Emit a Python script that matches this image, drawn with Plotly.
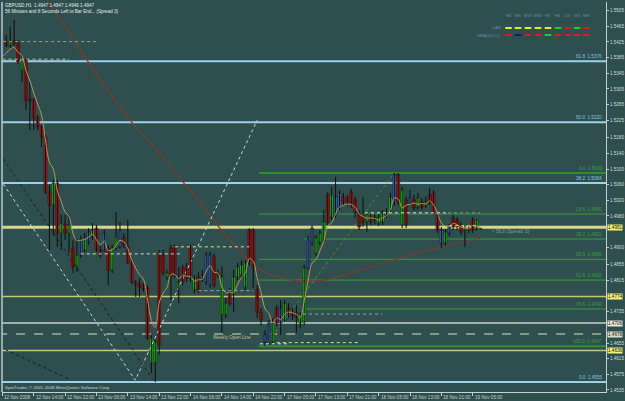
import plotly.graph_objects as go

# ---------------- data ----------------
bar_index = list(range(123))

opens = [
1.5438, 1.5425, 1.5417, 1.5428, 1.5422, 1.5353, 1.5379, 1.5279, 1.5277, 1.5231,
1.5208, 1.5182, 1.5041, 1.5008, 1.5064, 1.4936, 1.4959, 1.4936, 1.4898, 1.4850,
1.4880, 1.4893, 1.4913, 1.4929, 1.4949, 1.4893, 1.4893, 1.4898, 1.4842, 1.4898,
1.4901, 1.4926, 1.4901, 1.4862, 1.4811, 1.4806, 1.4803, 1.4796, 1.4668, 1.4604,
1.4650, 1.4880, 1.4834, 1.4824, 1.4898, 1.4809, 1.4811, 1.4850, 1.4898, 1.4821,
1.4791, 1.4827, 1.4811, 1.4803, 1.4875, 1.4834, 1.4824, 1.4727, 1.4757, 1.4824,
1.4824, 1.4829, 1.4798, 1.4860, 1.4944, 1.4791, 1.4734, 1.4676, 1.4655, 1.4706,
1.4706, 1.4745, 1.4714, 1.4734, 1.4732, 1.4732, 1.4727, 1.4709, 1.4847, 1.4911,
1.4924, 1.4913, 1.4919, 1.4965, 1.5034, 1.4983, 1.5003, 1.5029, 1.5026, 1.5041,
1.5021, 1.4988, 1.4983, 1.4983, 1.4965, 1.4977, 1.4977, 1.4965, 1.4983, 1.4995,
1.5013, 1.5085, 1.5046, 1.4957, 1.5026, 1.5000, 1.5026, 1.5003, 1.5016, 1.5016,
1.5039, 1.4983, 1.4944, 1.4911, 1.4936, 1.4952, 1.4970, 1.4957, 1.4949, 1.4944,
1.4944, 1.4970, 1.4947]

highs = [
1.5448, 1.5443, 1.5463, 1.5481, 1.5430, 1.5392, 1.5384, 1.5323, 1.5282, 1.5238,
1.5213, 1.5187, 1.5059, 1.5072, 1.5072, 1.4983, 1.4983, 1.4983, 1.4919, 1.4924,
1.4929, 1.4936, 1.4949, 1.4962, 1.4957, 1.4903, 1.4944, 1.4906, 1.4906, 1.4990,
1.4965, 1.4936, 1.4970, 1.4873, 1.4816, 1.4821, 1.4809, 1.4803, 1.4676, 1.4663,
1.4893, 1.4893, 1.4842, 1.4906, 1.4906, 1.4850, 1.4855, 1.4860, 1.4906, 1.4829,
1.4837, 1.4842, 1.4888, 1.4888, 1.4883, 1.4842, 1.4850, 1.4770, 1.4796, 1.4842,
1.4860, 1.4867, 1.4867, 1.4949, 1.4949, 1.4803, 1.4745, 1.4688, 1.4714, 1.4719,
1.4752, 1.4765, 1.4765, 1.4757, 1.4745, 1.4752, 1.4734, 1.4855, 1.4929, 1.4957,
1.4931, 1.4944, 1.4995, 1.5041, 1.5054, 1.5080, 1.5046, 1.5039, 1.5034, 1.5049,
1.5029, 1.4995, 1.5029, 1.4990, 1.4985, 1.4985, 1.4985, 1.4995, 1.5000, 1.5039,
1.5090, 1.5090, 1.5054, 1.5029, 1.5046, 1.5034, 1.5039, 1.5026, 1.5029, 1.5052,
1.5046, 1.4990, 1.4952, 1.4947, 1.4959, 1.4983, 1.4977, 1.4965, 1.4957, 1.4957,
1.4977, 1.4972, 1.4947]

lows = [
1.5379, 1.5412, 1.5410, 1.5415, 1.5369, 1.5323, 1.5251, 1.5200, 1.5200, 1.5200,
1.5156, 1.5036, 1.4893, 1.4931, 1.4901, 1.4893, 1.4919, 1.4885, 1.4834, 1.4837,
1.4873, 1.4888, 1.4906, 1.4919, 1.4888, 1.4873, 1.4888, 1.4803, 1.4834, 1.4893,
1.4896, 1.4898, 1.4857, 1.4806, 1.4773, 1.4773, 1.4786, 1.4663, 1.4578, 1.4555,
1.4624, 1.4827, 1.4816, 1.4765, 1.4821, 1.4757, 1.4803, 1.4811, 1.4811, 1.4783,
1.4783, 1.4811, 1.4803, 1.4796, 1.4796, 1.4821, 1.4681, 1.4719, 1.4750, 1.4734,
1.4816, 1.4821, 1.4791, 1.4852, 1.4796, 1.4719, 1.4701, 1.4647, 1.4650, 1.4653,
1.4699, 1.4676, 1.4709, 1.4719, 1.4714, 1.4681, 1.4693, 1.4701, 1.4842, 1.4903,
1.4878, 1.4906, 1.4913, 1.4957, 1.4970, 1.4975, 1.4995, 1.5008, 1.5006, 1.5000,
1.4975, 1.4944, 1.4952, 1.4939, 1.4957, 1.4959, 1.4954, 1.4957, 1.4975, 1.4988,
1.5006, 1.5008, 1.4949, 1.4949, 1.5006, 1.4993, 1.4995, 1.4995, 1.5000, 1.5008,
1.4983, 1.4936, 1.4898, 1.4903, 1.4929, 1.4944, 1.4944, 1.4931, 1.4901, 1.4936,
1.4936, 1.4942, 1.4946]

closes = [
1.5387, 1.5417, 1.5425, 1.5420, 1.5374, 1.5374, 1.5277, 1.5274, 1.5231, 1.5208,
1.5182, 1.5041, 1.5008, 1.5064, 1.4936, 1.4962, 1.4936, 1.4957, 1.4850, 1.4880,
1.4919, 1.4924, 1.4939, 1.4944, 1.4893, 1.4880, 1.4936, 1.4842, 1.4898, 1.4926,
1.4944, 1.4906, 1.4862, 1.4811, 1.4803, 1.4798, 1.4793, 1.4668, 1.4604, 1.4658,
1.4883, 1.4834, 1.4824, 1.4898, 1.4829, 1.4798, 1.4847, 1.4821, 1.4821, 1.4791,
1.4824, 1.4821, 1.4880, 1.4880, 1.4803, 1.4829, 1.4727, 1.4757, 1.4783, 1.4783,
1.4850, 1.4855, 1.4860, 1.4944, 1.4850, 1.4734, 1.4714, 1.4658, 1.4706, 1.4658,
1.4745, 1.4706, 1.4757, 1.4745, 1.4727, 1.4722, 1.4706, 1.4847, 1.4919, 1.4949,
1.4885, 1.4936, 1.4965, 1.5034, 1.4977, 1.5029, 1.5039, 1.5016, 1.5016, 1.5008,
1.4988, 1.4952, 1.4965, 1.4965, 1.4977, 1.4970, 1.4962, 1.4988, 1.4990, 1.5029,
1.5085, 1.5016, 1.4957, 1.5021, 1.5013, 1.5021, 1.5003, 1.5016, 1.5008, 1.5034,
1.4988, 1.4944, 1.4911, 1.4939, 1.4952, 1.4975, 1.4952, 1.4939, 1.4944, 1.4949,
1.4970, 1.4947, 1.4947]

candle_kind = list(
    "brgrrgrrrrrrrgrgrgrgbgbgrrbrggbrrrrrrrggrrgrrgrrrgrgbbrrggrggggrrrrbbgrbgrrrggbbgggrgbbrrrrrrgrrggggbrgrbrgrgrrrbgbrrrggrg")

x_label_index = [0, 8, 16, 24, 32, 40, 48, 56, 64, 72, 80, 88, 96, 104, 112, 120]
x_label_text = ["12 Nov 2008", "12 Nov 14:00", "12 Nov 22:00", "13 Nov 06:00",
                "13 Nov 14:00", "13 Nov 22:00", "14 Nov 06:00", "14 Nov 14:00",
                "14 Nov 22:00", "17 Nov 05:00", "17 Nov 13:00", "17 Nov 21:00",
                "18 Nov 05:00", "18 Nov 13:00", "18 Nov 21:00", "19 Nov 05:00"]

# 1.4775 and 1.4940 sit under the highlighted price boxes in the reference
y_tick_values = [1.5505, 1.5465, 1.5425, 1.5385, 1.5345, 1.5305, 1.5265, 1.5225,
                 1.5180, 1.5140, 1.5100, 1.5060, 1.5020, 1.4980, 1.4900,
                 1.4855, 1.4815, 1.4735, 1.4655, 1.4615, 1.4575, 1.4535]
y_tick_text = ["%.4f" % v for v in y_tick_values]

slow_ma_index = [10, 15, 25, 33, 40, 45, 50, 58, 66, 74, 82, 89, 97, 106, 114, 122]
slow_ma_values = [1.5550, 1.5480, 1.5328, 1.5220, 1.5141, 1.5080, 1.5020, 1.4918,
                  1.4841, 1.4816, 1.4816, 1.4834, 1.4859, 1.4885, 1.4905, 1.4923]

blue_fib_pct = ["61.8", "50.0", "38.2", "0.0"]
blue_fib_price = [1.5376, 1.5220, 1.5064, 1.4555]

green_fib_pct = ["0.0", "23.6", "38.2", "50.0", "61.8", "78.6", "100.0"]
green_fib_price = [1.5090, 1.4985, 1.4921, 1.4869, 1.4816, 1.4742, 1.4647]
green_fib_start = [65.5, 65.5, 77.0, 65.5, 65.5, 77.0, 65.5]

level_price = [1.4951, 1.4774, 1.4706, 1.4678, 1.4636]
level_label = ["1.4951", "1.4774", "1.4706", "1.4678", "1.4636"]

dotted_start = [0.2, 0.0, 20.0, 44.0, 50.0, 92.5, 113.7, 76.7, 70.0, 65.7, 114.0]
dotted_end = [24.0, 17.0, 46.0, 63.0, 64.0, 113.7, 121.9, 96.9, 90.7, 72.6, 121.4]
dotted_price = [1.5426, 1.5381, 1.4883, 1.4901, 1.4789, 1.4988, 1.4988, 1.4729,
                1.4656, 1.4653, 1.4955]
dotted_color = ["#9aa6a0", "#c8c088", "#d8dcd8", "#e0dc90", "#9aa6a0", "#e8ece8",
                "#8a9a9a", "#9aa6a0", "#e0dc90", "#e8ece8", "#f0e060"]

vline_index = [-0.6, 33.9, 65.0]
vline_price = [1.5074, 1.4560, 1.5225]
dark1_index = [-0.6, 38.4]
dark1_price = [1.5138, 1.4561]
dark2_index = [-0.6, 17.3]
dark2_price = [1.4645, 1.4561]
green_trend_index = [67, 100]
green_trend_price = [1.4647, 1.5090]

legend_cols = ["M1", "M5", "M15", "M30", "H1", "H4", "D1", "W1", "MN"]
legend_can = ["y", "y", "y", "y", "y", "g", "r", "g", "r"]
legend_sma = ["r", "n", "r", "r", "g", "r", "r", "r", "r"]

# ---------------- styling ----------------
BG = "#2F4F4F"
FG = "#c8d0d0"
FONT = "Liberation Sans"
FS = 4.6
kind_color = {"g": "#22dd22", "r": "#d01414", "b": "#4a78d0"}


def ema(vals, n):
    a = 2.0 / (n + 1)
    out = [vals[0]]
    for v in vals[1:]:
        out.append(out[-1] + a * (v - out[-1]))
    return out


fast_ma = ema(closes, 5)

fig = go.Figure()

XMIN, XMAX = -0.1, 154.0
shapes = []
annotations = []

# slow MA (behind candles)
fig.add_trace(go.Scatter(x=slow_ma_index, y=slow_ma_values, mode="lines",
                         line=dict(color="#7e3a30", width=1.2, shape="spline"),
                         showlegend=False, hoverinfo="skip"))

# diagonal drawings
fig.add_trace(go.Scatter(x=vline_index, y=vline_price, mode="lines",
                         line=dict(color="#d0dcdc", width=1, dash="dot"),
                         showlegend=False, hoverinfo="skip"))
for xi, yp in ((dark1_index, dark1_price), (dark2_index, dark2_price)):
    fig.add_trace(go.Scatter(x=xi, y=yp, mode="lines",
                             line=dict(color="#141c1c", width=1, dash="dot"),
                             showlegend=False, hoverinfo="skip"))
fig.add_trace(go.Scatter(x=green_trend_index, y=green_trend_price, mode="lines",
                         line=dict(color="#3a9a3a", width=1, dash="dot"),
                         showlegend=False, hoverinfo="skip"))

# wicks
wx, wy = [], []
for i, h, l in zip(bar_index, highs, lows):
    wx += [i, i, None]
    wy += [l, h, None]
fig.add_trace(go.Scatter(x=wx, y=wy, mode="lines", line=dict(color="#0c0c0c", width=1),
                         hoverinfo="skip", showlegend=False))

# bodies
base = [min(o, c) for o, c in zip(opens, closes)]
height = [max(abs(c - o), 0.00006) for o, c in zip(opens, closes)]
fig.add_trace(go.Bar(x=bar_index, y=height, base=base, width=0.76,
                     marker=dict(color=[kind_color[k] for k in candle_kind],
                                 line=dict(color="#101010", width=0.5)),
                     showlegend=False, hoverinfo="skip"))

# fast MA
fig.add_trace(go.Scatter(x=bar_index, y=fast_ma, mode="lines",
                         line=dict(color="#b8985e", width=1, shape="spline"),
                         showlegend=False, hoverinfo="skip"))

# blue fib
for pct, pr in zip(blue_fib_pct, blue_fib_price):
    shapes.append(dict(type="line", xref="x", yref="y", x0=XMIN - 1, x1=XMAX + 1, y0=pr, y1=pr,
                       line=dict(color="#9fd0ea", width=2), layer="below"))
    annotations.append(dict(xref="paper", yref="y", x=1, y=pr, xanchor="right", yanchor="bottom",
                            xshift=-2, yshift=0, text="%s  %.4f" % (pct, pr), showarrow=False,
                            font=dict(size=FS, color="#8cc4e4", family=FONT)))

# green fib
for pct, pr, st in zip(green_fib_pct, green_fib_price, green_fib_start):
    thick = pct in ("0.0", "100.0")
    shapes.append(dict(type="line", xref="x", yref="y", x0=st, x1=XMAX + 1, y0=pr, y1=pr,
                       line=dict(color="#2f8f2f" if thick else "#3a9e3a", width=2 if thick else 1),
                       layer="below"))
    annotations.append(dict(xref="paper", yref="y", x=1, y=pr, xanchor="right", yanchor="bottom",
                            xshift=-2, yshift=0, text="%s  %.4f" % (pct, pr), showarrow=False,
                            font=dict(size=FS, color="#3aa03a", family=FONT)))

# horizontal levels
level_style = [("#d8d888", 3, "solid"), ("#c8c870", 1.5, "solid"), ("#c8d0c8", 1.5, "solid"),
               ("#a8b098", 1.5, "dash"), ("#c8c870", 1.5, "solid")]
level_box = ["#f4f470", "#f4f470", "#e8ecd8", "#d8dcc8", "#f0f080"]
for pr, lab, (col, w, d), bx in zip(level_price, level_label, level_style, level_box):
    shapes.append(dict(type="line", xref="x", yref="y", x0=XMIN - 1, x1=XMAX + 1, y0=pr, y1=pr,
                       line=dict(color=col, width=w, dash=d), layer="below"))
    annotations.append(dict(xref="paper", yref="y", x=1, y=pr, xanchor="left", yanchor="middle",
                            xshift=1, text=lab, showarrow=False, bgcolor=bx, borderpad=0,
                            font=dict(size=FS, color="#101010", family=FONT)))

# dotted segments
for s, e, pr, col in zip(dotted_start, dotted_end, dotted_price, dotted_color):
    shapes.append(dict(type="line", xref="x", yref="y", x0=s, x1=e, y0=pr, y1=pr,
                       line=dict(color=col, width=1, dash="dot")))

# left border
shapes.append(dict(type="line", xref="paper", yref="paper", x0=0, x1=0, y0=0, y1=1,
                   line=dict(color="#b8c8cc", width=1.5)))

# x labels
for i, t in zip(x_label_index, x_label_text):
    annotations.append(dict(xref="x", yref="paper", x=i, y=0, xanchor="left", yanchor="top",
                            xshift=0, yshift=-1, text=t, showarrow=False,
                            font=dict(size=FS, color=FG, family=FONT)))

# texts
annotations += [
    dict(xref="paper", yref="paper", x=0.002, y=0.992, xanchor="left", yanchor="middle",
         text="GBPUSD,H1  1.4947 1.4947 1.4946 1.4947", showarrow=False,
         font=dict(size=4.6, color="#e8eaea", family=FONT)),
    dict(xref="paper", yref="paper", x=0.002, y=0.976, xanchor="left", yanchor="middle",
         text="56 Minutes and 8 Seconds Left to Bar End... (Spread 3)", showarrow=False,
         font=dict(size=4.6, color="#e8eaea", family=FONT)),
    dict(xref="paper", yref="paper", x=0.002, y=0.011, xanchor="left", yanchor="middle",
         text="SpotTrader, \u00a9 2001-2008 MetaQuotes Software Corp.", showarrow=False,
         font=dict(size=4.4, color="#d0d8d8", family=FONT)),
    dict(xref="x", yref="y", x=58.6, y=1.4668, xanchor="center", yanchor="middle",
         text="Weekly Open Line", showarrow=False,
         font=dict(size=FS, color="#c8c4a0", family=FONT)),
    dict(xref="x", yref="y", x=124.4, y=1.4941, xanchor="left", yanchor="middle",
         text="&lt; 56.8 (Spread: 3)", showarrow=False,
         font=dict(size=FS, color="#8a9c9c", family=FONT)),
]

# mini legend (top right)
col_px = [508.5, 518, 528, 538, 548, 558, 568, 577, 586]
legend_color = {"y": "#e8e830", "g": "#22cc22", "r": "#d02020", "n": "#101878"}


def px2paper(px):
    return (px - 2) / 604.0


def py2paper(py):
    return (392 - py) / 390.0


for cx, name, c1, c2 in zip(col_px, legend_cols, legend_can, legend_sma):
    annotations.append(dict(xref="paper", yref="paper", x=px2paper(cx), y=py2paper(16),
                            xanchor="center", yanchor="middle", text=name, showarrow=False,
                            font=dict(size=4.2, color="#6a8cc0", family=FONT)))
    for row_y, c in ((28, c1), (35, c2)):
        shapes.append(dict(type="line", xref="paper", yref="paper",
                           x0=px2paper(cx - 3.3), x1=px2paper(cx + 3.3),
                           y0=py2paper(row_y), y1=py2paper(row_y),
                           line=dict(color=legend_color[c], width=2)))
for row_y, t in ((28, "CAN"), (35, "SMA(60) CL")):
    annotations.append(dict(xref="paper", yref="paper", x=px2paper(503), y=py2paper(row_y),
                            xanchor="right", yanchor="middle", text=t, showarrow=False,
                            font=dict(size=4.2, color="#6a8cc0", family=FONT)))

fig.update_layout(
    template="none",
    width=625, height=401,
    margin=dict(l=2, r=19, t=2, b=9),
    paper_bgcolor=BG, plot_bgcolor=BG,
    font=dict(family=FONT, size=FS, color=FG),
    showlegend=False,
    barmode="overlay",
    shapes=shapes,
    annotations=annotations,
    xaxis=dict(range=[XMIN, XMAX], showgrid=False, zeroline=False, automargin=False,
               tickvals=x_label_index, ticktext=[""] * len(x_label_index),
               ticks="outside", ticklen=3, tickcolor=FG, showline=True, linecolor=FG,
               linewidth=1, showticklabels=False, fixedrange=True),
    yaxis=dict(range=[1.45297, 1.55273], side="right", showgrid=False, zeroline=False,
               automargin=False, tickvals=y_tick_values, ticktext=y_tick_text,
               ticks="outside", ticklen=2, tickcolor=FG, showline=True, linecolor=FG,
               linewidth=1, tickfont=dict(size=FS, color="#d8dcdc", family=FONT)),
)

fig.write_html("out.html")
